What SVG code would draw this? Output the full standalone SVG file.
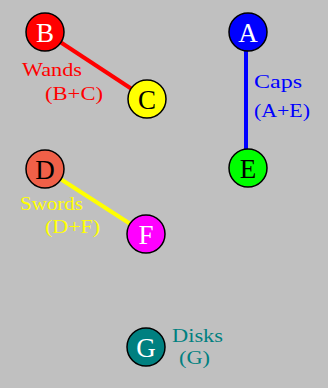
<svg xmlns="http://www.w3.org/2000/svg" width="328" height="388" viewBox="0 0 328 388">
<style>
.n{stroke:#000;stroke-width:1.5}
.nl{font-family:"Liberation Serif",serif;font-size:27px;text-anchor:middle}
.lb{font-family:"Liberation Serif",serif;font-size:19px}
.c{stroke-width:4;fill:none}
</style>
<rect width="328" height="388" fill="#c0c0c0"/>
<g id="connectors">
<line class="c" x1="45" y1="32" x2="147" y2="99" stroke="#ff0000"/>
<line class="c" x1="246" y1="32" x2="246" y2="168" stroke="#0000ff"/>
<line class="c" x1="45" y1="169" x2="146" y2="234" stroke="#ffff00"/>
</g>
<g id="A"><circle class="n" cx="248" cy="32" r="19" fill="#0000ff"/><text class="nl" x="248" y="42" fill="#fff">A</text></g>
<g id="B"><circle class="n" cx="45" cy="32" r="19" fill="#ff0000"/><text class="nl" x="45" y="42" fill="#fff">B</text></g>
<g id="C"><circle class="n" cx="147" cy="99" r="19" fill="#ffff00"/><text class="nl" x="147" y="109" fill="#000">C</text></g>
<g id="D"><circle class="n" cx="45" cy="169" r="19" fill="#f06048"/><text class="nl" x="45" y="179" fill="#000">D</text></g>
<g id="E"><circle class="n" cx="248" cy="168" r="19" fill="#00ff00"/><text class="nl" x="248" y="178" fill="#000">E</text></g>
<g id="F"><circle class="n" cx="146" cy="234" r="19" fill="#ff00ff"/><text class="nl" x="146" y="244" fill="#fff">F</text></g>
<g id="G"><circle class="n" cx="146" cy="347" r="19" fill="#008080"/><text class="nl" x="146" y="357" fill="#fff">G</text></g>
<g id="labels">
<text class="lb" x="22" y="76" fill="#ff0000" textLength="60" lengthAdjust="spacingAndGlyphs">Wands</text>
<text class="lb" x="45" y="100" fill="#ff0000" textLength="58" lengthAdjust="spacingAndGlyphs">(B+C)</text>
<text class="lb" x="254" y="88" fill="#0000ff" textLength="48" lengthAdjust="spacingAndGlyphs">Caps</text>
<text class="lb" x="254" y="117" fill="#0000ff" textLength="56" lengthAdjust="spacingAndGlyphs">(A+E)</text>
<text class="lb" x="20" y="210" fill="#ffff00" textLength="63" lengthAdjust="spacingAndGlyphs">Swords</text>
<text class="lb" x="45" y="233" fill="#ffff00" textLength="55" lengthAdjust="spacingAndGlyphs">(D+F)</text>
<text class="lb" x="172" y="342" fill="#008080" textLength="51" lengthAdjust="spacingAndGlyphs">Disks</text>
<text class="lb" x="179" y="364" fill="#008080" textLength="31" lengthAdjust="spacingAndGlyphs">(G)</text>
</g>
</svg>
